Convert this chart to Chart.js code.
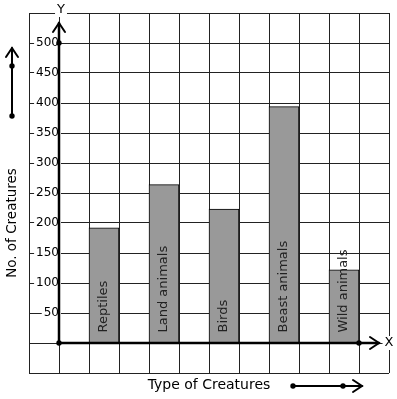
<!DOCTYPE html>
<html>
<head>
<meta charset="utf-8">
<script src="https://cdn.jsdelivr.net/npm/chart.js@4/dist/chart.umd.min.js"></script>
<style>
  html, body { margin: 0; padding: 0; background: #fff; }
  #wrap { width: 397px; height: 399px; }
</style>
</head>
<body>
<div id="wrap"><canvas id="chart" width="397" height="399"></canvas></div>
<script>
// values
const categories = ['Reptiles', 'Land animals', 'Birds', 'Beast animals', 'Wild animals']
const creatureCounts = [192, 264, 223, 394, 122]
// bars sit in every second grid column, starting at the second column right of the Y axis
const barSlots = [1.5, 3.5, 5.5, 7.5, 9.5]
const yTickMin = -50
const yTickMax = 550
const yStep = 50
const yLabelMax = 500

const FONT = '"DejaVu Sans", sans-serif'

const decor = {
    id: 'decor',
    afterDraw(chart) {
        const ctx = chart.ctx
        const xs = chart.scales.x
        const ys = chart.scales.y
        const area = chart.chartArea
        const x0 = xs.getPixelForValue(0)
        const y0 = ys.getPixelForValue(0)

        ctx.save()
        ctx.strokeStyle = '#000'
        ctx.fillStyle = '#000'
        ctx.lineCap = 'round'

        // thick Y axis with arrow
        const yTip = area.top + 10
        ctx.lineWidth = 2.5
        ctx.beginPath()
        ctx.moveTo(x0, y0)
        ctx.lineTo(x0, yTip)
        ctx.stroke()
        chevron(ctx, x0, yTip, 'up')

        // thick X axis with arrow
        const xTip = area.right - 10
        ctx.beginPath()
        ctx.moveTo(x0, y0)
        ctx.lineTo(xTip, y0)
        ctx.stroke()
        chevron(ctx, xTip, y0, 'right')

        // dots
        dot(ctx, x0, y0)
        dot(ctx, x0, ys.getPixelForValue(yLabelMax))
        dot(ctx, xs.getPixelForValue(10), y0)

        // axis letters
        ctx.font = '13px ' + FONT
        ctx.textBaseline = 'middle'
        ctx.textAlign = 'center'
        boxedText(ctx, 'Y', x0 + 2, area.top - 3)
        boxedText(ctx, 'X', area.right, y0)

        // left title with arrow
        ctx.save()
        ctx.translate(12, 223)
        ctx.rotate(-Math.PI / 2)
        ctx.font = '13.5px ' + FONT
        ctx.fillStyle = '#000'
        ctx.fillText('No. of Creatures', 0, 0)
        ctx.restore()
        ctx.lineWidth = 2
        ctx.beginPath()
        ctx.moveTo(12, 116)
        ctx.lineTo(12, 48)
        ctx.stroke()
        chevron(ctx, 12, 48, 'up')
        dot(ctx, 12, 116)
        dot(ctx, 12, 66)

        // bottom title with arrow
        ctx.font = '14px ' + FONT
        ctx.textAlign = 'center'
        ctx.fillText('Type of Creatures', 209, 385)
        ctx.beginPath()
        ctx.moveTo(293, 386)
        ctx.lineTo(362, 386)
        ctx.stroke()
        chevron(ctx, 362, 386, 'right')
        dot(ctx, 293, 386)
        dot(ctx, 343, 386)

        // labels inside the bars
        const meta = chart.getDatasetMeta(0)
        ctx.font = '13px ' + FONT
        ctx.fillStyle = '#222'
        ctx.textAlign = 'left'
        meta.data.forEach((bar, i) => {
            ctx.save()
            ctx.translate(bar.x, bar.base - 10)
            ctx.rotate(-Math.PI / 2)
            ctx.fillText(categories[i], 0, 0)
            ctx.restore()
        })
        ctx.restore()
    }
}

function chevron(ctx, x, y, dir) {
    ctx.save()
    ctx.lineWidth = 2
    ctx.beginPath()
    if (dir === 'up') {
        ctx.moveTo(x - 6, y + 9)
        ctx.lineTo(x, y)
        ctx.lineTo(x + 6, y + 9)
    } else {
        ctx.moveTo(x - 9, y - 6)
        ctx.lineTo(x, y)
        ctx.lineTo(x - 9, y + 6)
    }
    ctx.stroke()
    ctx.restore()
}

function dot(ctx, x, y) {
    ctx.beginPath()
    ctx.arc(x, y, 2.7, 0, Math.PI * 2)
    ctx.fill()
}

function boxedText(ctx, txt, x, y) {
    const w = ctx.measureText(txt).width
    ctx.save()
    ctx.fillStyle = '#fff'
    ctx.fillRect(x - w / 2 - 2, y - 7, w + 4, 14)
    ctx.restore()
    ctx.fillText(txt, x, y)
}

const inLabelRange = (v) => v > 0 && v <= yLabelMax

new Chart(document.getElementById('chart'), {
    type: 'bar',
    data: {
        datasets: [{
            data: barSlots.map((x, i) => ({ x: x, y: creatureCounts[i] })),
            backgroundColor: '#999999',
            borderColor: '#000',
            borderWidth: 1,
            borderSkipped: 'bottom',
            categoryPercentage: 1,
            barPercentage: 1
        }]
    },
    options: {
        responsive: false,
        animation: false,
        events: [],
        layout: { padding: { left: 29, right: 8, top: 13, bottom: 26 } },
        plugins: {
            legend: { display: false },
            tooltip: { enabled: false }
        },
        scales: {
            x: {
                type: 'linear',
                position: { y: 0 },
                min: -1,
                max: 11,
                offset: false,
                ticks: { stepSize: 1, display: false },
                grid: { color: '#222', lineWidth: 1, drawTicks: false, offset: false },
                border: { display: false }
            },
            y: {
                type: 'linear',
                position: { x: 0 },
                min: yTickMin,
                max: yTickMax,
                ticks: {
                    stepSize: yStep,
                    padding: 5,
                    color: '#000',
                    font: { family: FONT, size: 12 },
                    callback: (v) => inLabelRange(v) ? String(v) : '',
                    showLabelBackdrop: (c) => inLabelRange(c.tick.value),
                    backdropColor: '#fff',
                    backdropPadding: 2
                },
                grid: { color: '#222', lineWidth: 1, drawTicks: false },
                border: { display: false }
            }
        }
    },
    plugins: [decor]
})
</script>
</body>
</html>
